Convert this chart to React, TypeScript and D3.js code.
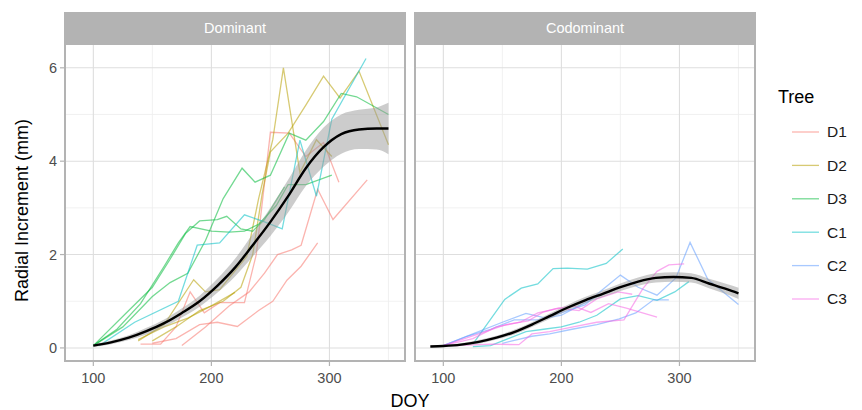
import React from 'react';
import * as d3 from 'd3';

// tree lines, [DOY, radial increment mm]
const domD1a = [[140,0.08],[157,0.08],[170,0.45],[182,1.2],[194,0.75],[207,0.97],[228,0.97],[238,2.0],[250,4.62],[266,4.6],[280,4.1],[295,4.4],[308,3.55]];
const domD1b = [[150,0.1],[170,0.2],[190,0.5],[205,0.55],[222,0.46],[240,0.8],[252,1.0],[264,1.45],[276,1.75],[290,2.25]];
const domD1c = [[175,0.05],[195,0.45],[215,0.9],[232,1.2],[245,1.6],[256,2.0],[268,2.1],[276,2.2],[290,3.4],[303,2.75],[332,3.6]];
const domD2a = [[138,0.15],[160,0.5],[185,1.46],[195,1.2],[207,1.25],[230,1.96],[240,3.2],[252,4.46],[261,6.0],[275,3.75],[289,4.46],[302,4.1]];
const domD2b = [[138,0.18],[160,0.45],[180,0.64],[200,0.9],[220,1.19]];
const domD2c = [[150,0.15],[170,0.45],[190,0.8],[210,1.0],[225,1.3],[235,2.0],[243,3.3],[250,4.2],[265,4.6],[280,5.2],[295,5.82],[309,5.35],[325,5.93],[350,4.35]];
const domD3a = [[100,0.05],[120,0.4],[140,0.95],[160,1.75],[172,2.25],[182,2.6],[200,2.5],[215,2.48],[228,2.5],[240,2.65],[255,3.05],[265,3.5],[280,3.5],[302,3.7]];
const domD3b = [[100,0.05],[125,0.45],[150,1.1],[165,1.4],[180,1.6],[195,2.3],[210,3.2],[226,3.85],[237,3.55],[250,3.7],[266,4.6],[280,4.45],[295,4.85],[310,5.45],[323,5.38],[350,5.0]];
const domD3c = [[100,0.05],[130,0.8],[150,1.3],[165,1.9],[178,2.45],[190,2.72],[205,2.75],[213,2.82],[225,2.55],[235,2.5],[245,2.75],[262,3.45]];
const domC1a = [[105,0.05],[135,0.55],[172,1.0],[188,2.2],[207,2.25],[228,2.85],[245,2.7],[260,2.55],[275,4.45],[289,3.25],[302,4.9],[331,6.2]];

const codC1a = [[125,0.08],[152,1.04],[166,1.28],[180,1.37],[193,1.7],[205,1.71],[222,1.69],[238,1.81],[252,2.12]];
const codC1b = [[125,0.03],[140,0.05],[155,0.2],[170,0.35],[185,0.4],[200,0.45],[215,0.55],[230,0.7],[250,1.05],[265,1.12],[281,1.02],[296,1.2],[308,1.42]];
const codC2a = [[100,0.05],[125,0.3],[150,0.55],[170,0.74],[185,0.65],[200,0.75],[220,0.92],[235,1.25],[250,1.56],[265,1.3],[281,1.13],[297,1.5],[309,2.26],[324,1.47],[350,0.93]];
const codC2b = [[150,0.1],[175,0.25],[190,0.3],[209,0.4],[230,0.5],[249,0.62],[263,0.75],[278,1.03],[291,1.03]];
const codC2c = [[100,0.05],[120,0.25],[140,0.4],[160,0.6],[180,0.6],[200,0.7],[215,0.9],[230,1.1],[245,1.25]];
const codC3a = [[100,0.05],[130,0.3],[153,0.5],[172,0.58],[184,0.76],[195,0.84],[210,0.9],[225,0.76],[240,0.95],[255,0.85],[281,0.66]];
const codC3b = [[110,0.05],[140,0.08],[164,0.07],[175,0.3],[190,0.35],[210,0.45],[230,0.55],[253,0.6],[269,1.27],[281,1.64],[291,1.78],[304,1.8]];
const codC3c = [[100,0.05],[125,0.2],[145,0.45],[165,0.55],[180,0.75],[198,0.85],[215,0.8],[230,1.05],[248,1.2],[260,1.15]];

// loess fits
const fitDoyDom = [100,115,130,145,160,175,190,205,220,235,250,265,280,295,310,325,340,350];
const fitDom = [0.05,0.12,0.22,0.36,0.53,0.75,1.0,1.33,1.72,2.2,2.7,3.25,3.85,4.3,4.58,4.68,4.7,4.7];
const seDom = [0.03,0.04,0.05,0.07,0.08,0.1,0.12,0.15,0.19,0.24,0.3,0.35,0.38,0.42,0.42,0.42,0.45,0.55];
const fitDoyCod = [89,100,115,130,145,160,175,190,205,220,235,250,265,280,295,310,325,340,350];
const fitCod = [0.03,0.04,0.07,0.13,0.22,0.34,0.5,0.68,0.86,1.02,1.16,1.3,1.42,1.5,1.52,1.5,1.38,1.26,1.17];
const seCod = [0.02,0.02,0.03,0.04,0.04,0.05,0.05,0.06,0.06,0.07,0.07,0.08,0.09,0.1,0.1,0.1,0.1,0.11,0.12];

const trees = ['D1', 'D2', 'D3', 'C1', 'C2', 'C3'];
const treeColors = ['#F8766D', '#B79F00', '#00BA38', '#00BFC4', '#619CFF', '#F564E3'];
const xTicks = [100, 200, 300];
const xMinor = [150, 250, 350];
const yTicks = [0, 2, 4, 6];
const yMinor = [1, 3, 5];

const panels = [
  {
    name: 'Dominant',
    lines: [['D1', domD1a], ['D1', domD1b], ['D1', domD1c], ['D2', domD2a], ['D2', domD2b], ['D2', domD2c],
      ['D3', domD3a], ['D3', domD3b], ['D3', domD3c], ['C1', domC1a]],
    fitX: fitDoyDom, fit: fitDom, se: seDom,
  },
  {
    name: 'Codominant',
    lines: [['C1', codC1a], ['C1', codC1b], ['C2', codC2a], ['C2', codC2b], ['C2', codC2c],
      ['C3', codC3a], ['C3', codC3b], ['C3', codC3c]],
    fitX: fitDoyCod, fit: fitCod, se: seCod,
  },
];

const font = '"Liberation Sans", Arial, sans-serif';

export default function App() {
  const W = 862, H = 410;
  const panelW = 340, top = 44, panelH = 317;
  const panelX = [65, 415];

  const x = d3.scaleLinear().domain([76, 364]).range([0, panelW]);
  const y = d3.scaleLinear().domain([-0.28, 6.51]).range([panelH, 0]);
  const color = d3.scaleOrdinal<string, string>().domain(trees).range(treeColors);

  const line = d3.line<number[]>().x(d => x(d[0])).y(d => y(d[1]));
  const smooth = d3.line<number>().curve(d3.curveMonotoneX);
  const ribbon = d3.area<number>().curve(d3.curveMonotoneX);

  return (
    <svg width={W} height={H} style={{ position: 'absolute', left: 0, top: 0, fontFamily: font }}>
      <rect width={W} height={H} fill="#fff" />
      {panels.map((p, pi) => {
        const idx = p.fitX.map((_, i) => i);
        const fitPath = smooth.x(i => x(p.fitX[i])).y(i => y(p.fit[i]))(idx);
        const ribPath = ribbon.x(i => x(p.fitX[i])).y0(i => y(p.fit[i] - p.se[i])).y1(i => y(p.fit[i] + p.se[i]))(idx);
        return (
          <g key={p.name} transform={`translate(${panelX[pi]},${top})`}>
            <defs>
              <clipPath id={`clip${pi}`}><rect width={panelW} height={panelH} /></clipPath>
            </defs>
            {xMinor.map(t => <line key={'xm' + t} x1={x(t)} x2={x(t)} y1={0} y2={panelH} stroke="#eeeeee" strokeWidth={0.8} />)}
            {yMinor.map(t => <line key={'ym' + t} x1={0} x2={panelW} y1={y(t)} y2={y(t)} stroke="#eeeeee" strokeWidth={0.8} />)}
            {xTicks.map(t => <line key={'x' + t} x1={x(t)} x2={x(t)} y1={0} y2={panelH} stroke="#dedede" strokeWidth={1.1} />)}
            {yTicks.map(t => <line key={'y' + t} x1={0} x2={panelW} y1={y(t)} y2={y(t)} stroke="#dedede" strokeWidth={1.1} />)}
            <g clipPath={`url(#clip${pi})`}>
              {p.lines.map(([tree, pts], li) => (
                <path key={li} d={line(pts as number[][]) || ''} fill="none" stroke={color(tree as string)}
                  strokeOpacity={0.55} strokeWidth={1.3} />
              ))}
              <path d={ribPath || ''} fill="#999999" fillOpacity={0.5} />
              <path d={fitPath || ''} fill="none" stroke="#000" strokeWidth={2.4} />
            </g>
            <rect x={0} y={0} width={panelW} height={panelH} fill="none" stroke="#b3b3b3" strokeWidth={2} />
            {/* strip */}
            <rect x={-1} y={-32} width={panelW + 2} height={32} fill="#b3b3b3" />
            <text x={panelW / 2} y={-16} dy="0.35em" textAnchor="middle" fill="#fff" fontSize={14.5}>{p.name}</text>
            {/* x axis */}
            {xTicks.map(t => (
              <g key={'xt' + t} transform={`translate(${x(t)},${panelH})`}>
                <line y1={1} y2={5} stroke="#b3b3b3" strokeWidth={1.2} />
                <text y={17} dy="0.35em" textAnchor="middle" fill="#4d4d4d" fontSize={14.5}>{t}</text>
              </g>
            ))}
            {pi === 0 && yTicks.map(t => (
              <g key={'yt' + t} transform={`translate(0,${y(t)})`}>
                <line x1={-5} x2={-1} stroke="#b3b3b3" strokeWidth={1.2} />
                <text x={-8} dy="0.35em" textAnchor="end" fill="#4d4d4d" fontSize={14.5}>{t}</text>
              </g>
            ))}
          </g>
        );
      })}
      <text x={410} y={401} dy="0.35em" textAnchor="middle" fontSize={18}>DOY</text>
      <text transform={`translate(22,${top + panelH / 2 + 8}) rotate(-90)`} dy="0.35em" textAnchor="middle" fontSize={18}>
        Radial Increment (mm)
      </text>
      {/* legend */}
      <text x={778} y={97} dy="0.35em" fontSize={18}>Tree</text>
      {trees.map((t, i) => (
        <g key={t} transform={`translate(792,${132 + i * 33.4})`}>
          <line x1={0} x2={27} stroke={color(t)} strokeOpacity={0.55} strokeWidth={1.3} />
          <text x={35} dy="0.35em" fontSize={15.5} fill="#1a1a1a">{t}</text>
        </g>
      ))}
    </svg>
  );
}
